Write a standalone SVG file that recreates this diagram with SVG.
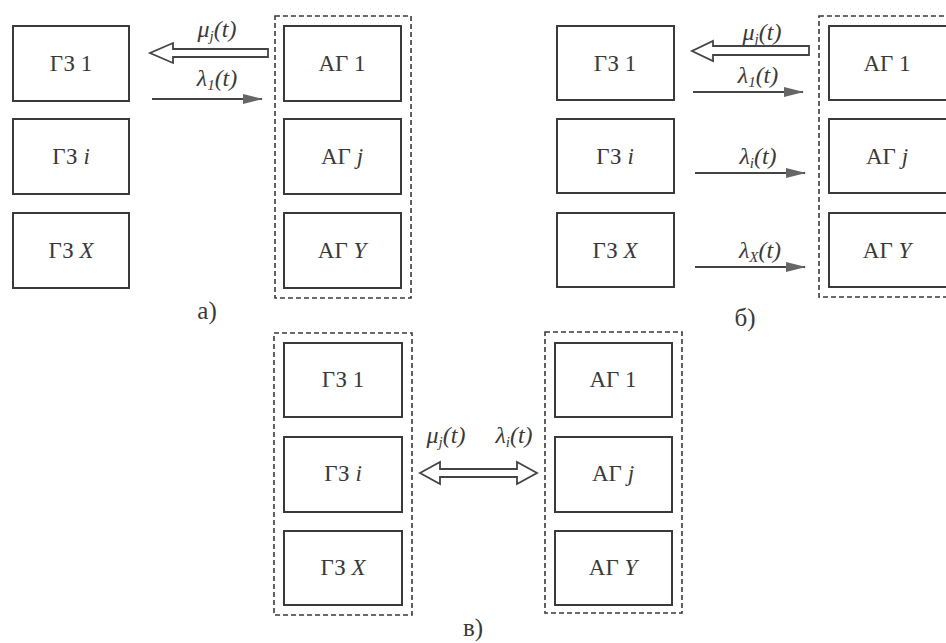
<svg xmlns="http://www.w3.org/2000/svg" width="946" height="643" viewBox="0 0 946 643">
<style>
.box{fill:#fff;stroke:#3a3a3a;stroke-width:2}
.grp{fill:none;stroke:#3a3a3a;stroke-width:1.6;stroke-dasharray:5 3}
.t{font-family:'Liberation Serif','DejaVu Serif','Times New Roman',serif;font-size:23px;fill:#3a3a3a;text-anchor:middle}
.lab{font-family:'Liberation Serif','DejaVu Serif','Times New Roman',serif;font-size:24px;font-style:italic;fill:#3a3a3a;text-anchor:middle}
.cap{font-family:'Liberation Serif','DejaVu Serif','Times New Roman',serif;font-size:25px;fill:#3a3a3a;text-anchor:middle}
.i{font-style:italic}
.sub{font-size:15px;font-style:italic}
.line{stroke:#444;stroke-width:1.8;fill:none}
.hollow{fill:#fff;stroke:#444;stroke-width:1.8;stroke-linejoin:miter}
</style>
<defs>
<marker id="ah" markerWidth="20" markerHeight="10" refX="19" refY="5" orient="auto" markerUnits="userSpaceOnUse">
<path d="M0,0 L20,5 L0,10 Z" fill="#666"/>
</marker>
</defs>
<rect width="946" height="643" fill="#fff"/>

<!-- Diagram a -->
<g id="a-group"><rect class="grp" x="275" y="16" width="136" height="282"/></g>
<g id="a-gz1"><rect class="box" x="13" y="26" width="116" height="75"/><text class="t" x="71" y="71">ГЗ 1</text></g>
<g id="a-gzi"><rect class="box" x="13" y="119" width="116" height="75"/><text class="t" x="71" y="164">ГЗ <tspan class="i">i</tspan></text></g>
<g id="a-gzx"><rect class="box" x="13" y="213" width="116" height="75"/><text class="t" x="71" y="258">ГЗ <tspan class="i">X</tspan></text></g>
<g id="a-ag1"><rect class="box" x="284" y="26" width="117" height="75"/><text class="t" x="342" y="71">АГ 1</text></g>
<g id="a-agj"><rect class="box" x="284" y="119" width="117" height="75"/><text class="t" x="342" y="164">АГ <tspan class="i">j</tspan></text></g>
<g id="a-agy"><rect class="box" x="284" y="213" width="117" height="75"/><text class="t" x="342" y="258">АГ <tspan class="i">Y</tspan></text></g>
<text class="cap" x="207" y="319">а)</text>

<!-- Diagram b -->
<g id="b-group"><rect class="grp" x="819" y="16" width="140" height="281"/></g>
<g id="b-gz1"><rect class="box" x="557" y="26" width="117" height="74"/><text class="t" x="615" y="71">ГЗ 1</text></g>
<g id="b-gzi"><rect class="box" x="557" y="119" width="117" height="74"/><text class="t" x="615" y="164">ГЗ <tspan class="i">i</tspan></text></g>
<g id="b-gzx"><rect class="box" x="557" y="213" width="117" height="74"/><text class="t" x="615" y="258">ГЗ <tspan class="i">X</tspan></text></g>
<g id="b-ag1"><rect class="box" x="829" y="26" width="120" height="74"/><text class="t" x="887" y="71">АГ 1</text></g>
<g id="b-agj"><rect class="box" x="829" y="119" width="120" height="74"/><text class="t" x="887" y="164">АГ <tspan class="i">j</tspan></text></g>
<g id="b-agy"><rect class="box" x="829" y="213" width="120" height="74"/><text class="t" x="887" y="258">АГ <tspan class="i">Y</tspan></text></g>
<text class="cap" x="745" y="326">б)</text>

<!-- Diagram c -->
<g id="c-group-left"><rect class="grp" x="274" y="333" width="138" height="282"/></g>
<g id="c-group-right"><rect class="grp" x="545" y="332" width="137" height="281"/></g>
<g id="c-gz1"><rect class="box" x="284" y="343" width="118" height="74"/><text class="t" x="343" y="387">ГЗ 1</text></g>
<g id="c-gzi"><rect class="box" x="284" y="437" width="118" height="75"/><text class="t" x="343" y="481">ГЗ <tspan class="i">i</tspan></text></g>
<g id="c-gzx"><rect class="box" x="284" y="531" width="118" height="74"/><text class="t" x="343" y="575">ГЗ <tspan class="i">X</tspan></text></g>
<g id="c-ag1"><rect class="box" x="555" y="343" width="117" height="74"/><text class="t" x="613" y="387">АГ 1</text></g>
<g id="c-agj"><rect class="box" x="555" y="437" width="117" height="75"/><text class="t" x="613" y="481">АГ <tspan class="i">j</tspan></text></g>
<g id="c-agy"><rect class="box" x="555" y="531" width="117" height="74"/><text class="t" x="613" y="575">АГ <tspan class="i">Y</tspan></text></g>
<text class="cap" x="473" y="636">в)</text>

<!-- Connectors -->
<g id="connectors">
<polygon class="hollow" points="268,49 173,49 173,43 150,53 173,63 173,57 268,57"/>
<line class="line" x1="152" y1="99" x2="262" y2="99" marker-end="url(#ah)"/>
<polygon class="hollow" points="809,46 713,46 713,41 692,51 713,61 713,55 809,55"/>
<line class="line" x1="693" y1="92" x2="803" y2="92" marker-end="url(#ah)"/>
<line class="line" x1="695" y1="173" x2="805" y2="173" marker-end="url(#ah)"/>
<line class="line" x1="695" y1="267" x2="805" y2="267" marker-end="url(#ah)"/>
<polygon class="hollow" points="420,473 440,462 440,469 517,469 517,462 537,473 517,484 517,477 440,477 440,484"/>
</g>

<!-- Connector labels -->
<g id="labels">
<text class="lab" x="217" y="37">μ<tspan class="sub" dy="4">j</tspan><tspan dy="-4">(t)</tspan></text>
<text class="lab" x="217" y="86">λ<tspan class="sub" dy="4">1</tspan><tspan dy="-4">(t)</tspan></text>
<text class="lab" x="762" y="40">μ<tspan class="sub" dy="4">j</tspan><tspan dy="-4">(t)</tspan></text>
<text class="lab" x="758" y="83">λ<tspan class="sub" dy="4">1</tspan><tspan dy="-4">(t)</tspan></text>
<text class="lab" x="758" y="164">λ<tspan class="sub" dy="4">i</tspan><tspan dy="-4">(t)</tspan></text>
<text class="lab" x="760" y="258">λ<tspan class="sub" dy="4">X</tspan><tspan dy="-4">(t)</tspan></text>
<text class="lab" x="446" y="443">μ<tspan class="sub" dy="4">j</tspan><tspan dy="-4">(t)</tspan></text>
<text class="lab" x="514" y="443">λ<tspan class="sub" dy="4">i</tspan><tspan dy="-4">(t)</tspan></text>
</g>
</svg>
